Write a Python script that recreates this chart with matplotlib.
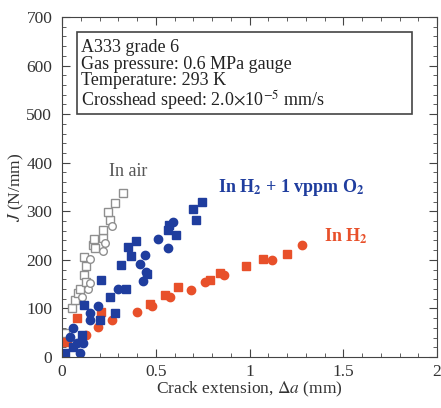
import matplotlib
matplotlib.use('Agg')
import matplotlib.pyplot as plt
from matplotlib.patches import Rectangle
from matplotlib.ticker import MultipleLocator

plt.rcParams['font.family'] = 'serif'
plt.rcParams['font.serif'] = ['Liberation Serif', 'DejaVu Serif']
plt.rcParams['mathtext.fontset'] = 'stix'
plt.rcParams.update({'font.size': 12.5})

# In air (open markers)
air_sq_x = [0.016, 0.052, 0.07, 0.087, 0.096, 0.119, 0.13, 0.13, 0.119, 0.167, 0.176, 0.172,
            0.217, 0.22, 0.256, 0.247, 0.28, 0.327]
air_sq_y = [49, 100, 117, 131, 141, 169, 155, 187, 205, 230, 224, 242, 246, 261, 282, 299, 318, 337]
air_ci_x = [0.105, 0.14, 0.15, 0.15, 0.22, 0.23, 0.265]
air_ci_y = [124, 139, 152, 201, 219, 235, 270]

# In H2 + 1 vppm O2 (blue)
o2_sq_x = [0.016, 0.06, 0.105, 0.117, 0.203, 0.21, 0.256, 0.283, 0.34, 0.315, 0.354, 0.368,
           0.395, 0.455, 0.563, 0.573, 0.61, 0.697, 0.745, 0.715]
o2_sq_y = [8, 21, 45, 107, 76, 158, 124, 91, 139, 189, 227, 208, 239, 171, 261, 272, 252,
           304, 320, 283]
o2_ci_x = [0.06, 0.043, 0.096, 0.078, 0.114, 0.15, 0.15, 0.194, 0.297, 0.443, 0.416, 0.448,
           0.43, 0.514, 0.563, 0.59]
o2_ci_y = [59, 42, 8, 29, 28, 90, 76, 105, 139, 210, 191, 176, 157, 243, 224, 277]

# In H2 (orange)
h2_sq_x = [0.025, 0.08, 0.21, 0.47, 0.55, 0.62, 0.79, 0.84, 0.98, 1.07, 1.20]
h2_sq_y = [31, 80, 93, 110, 128, 145, 158, 173, 187, 201, 213]
h2_ci_x = [0.13, 0.19, 0.265, 0.40, 0.48, 0.576, 0.69, 0.763, 0.866, 1.118, 1.28]
h2_ci_y = [45, 62, 76, 92, 106, 123, 138, 155, 169, 200, 230]

blue = '#1f3d9e'
orange = '#e8502a'
grey = '#8f8f8f'

fig = plt.figure(figsize=(4.41, 4.08), dpi=100)
ax = fig.add_axes([62/441, 51/408, 375/441, 340/408])

ax.plot(air_sq_x, air_sq_y, 's', mfc='white', mec=grey, mew=1.0, ms=6, ls='none')
ax.plot(air_ci_x, air_ci_y, 'o', mfc='white', mec=grey, mew=1.0, ms=5.5, ls='none')
ax.plot(h2_sq_x, h2_sq_y, 's', color=orange, ms=6, ls='none')
ax.plot(h2_ci_x, h2_ci_y, 'o', color=orange, ms=6, ls='none')
ax.plot(o2_sq_x, o2_sq_y, 's', color=blue, ms=6, ls='none')
ax.plot(o2_ci_x, o2_ci_y, 'o', color=blue, ms=6, ls='none')

ax.set_xlim(0, 2)
ax.set_ylim(0, 700)
ax.xaxis.set_major_locator(MultipleLocator(0.5))
ax.xaxis.set_minor_locator(MultipleLocator(0.1))
ax.yaxis.set_major_locator(MultipleLocator(100))
ax.yaxis.set_minor_locator(MultipleLocator(20))
ax.xaxis.set_ticks([0, 0.5, 1, 1.5, 2])
ax.xaxis.set_ticklabels(['0', '0.5', '1', '1.5', '2'])
ax.tick_params(which='both', direction='in', top=True, right=True, colors='#444444',
               labelcolor='#333333')
ax.tick_params(which='major', length=6)
ax.tick_params(which='minor', length=3)
ax.tick_params(axis='x', which='major', pad=5)
ax.tick_params(axis='y', which='major', pad=7)
for s in ax.spines.values():
    s.set_color('#444444')

ax.set_xlabel(r'Crack extension, $\Delta a$ (mm)', color='#333333', labelpad=0)
ax.set_ylabel(r'$J$ (N/mm)', color='#333333', labelpad=0)

ax.text(0.25, 381, 'In air', color='#555555', fontsize=13, va='center')
ax.text(0.83, 350, r'In H$_\mathbf{2}$ + 1 vppm O$_\mathbf{2}$', color=blue, fontsize=13,
        fontweight='bold', va='center')
ax.text(1.40, 249, r'In H$_\mathbf{2}$', color=orange, fontsize=13, fontweight='bold',
        va='center')

# info box (fixed frame, wider than the text)
ax.add_patch(Rectangle((0.04, 0.715), 0.893, 0.241, transform=ax.transAxes,
                       fc='white', ec='#444444', lw=1.2, zorder=3))
box_text = '\n'.join(['A333 grade 6', 'Gas pressure: 0.6 MPa gauge', 'Temperature: 293 K',
                      r'Crosshead speed: 2.0$\times$10$^{-5}$ mm/s'])
ax.text(0.051, 0.934, box_text, transform=ax.transAxes, fontsize=13, linespacing=0.95,
        va='top', ha='left', color='#222222', zorder=4)

fig.savefig('out.png', dpi=100)
